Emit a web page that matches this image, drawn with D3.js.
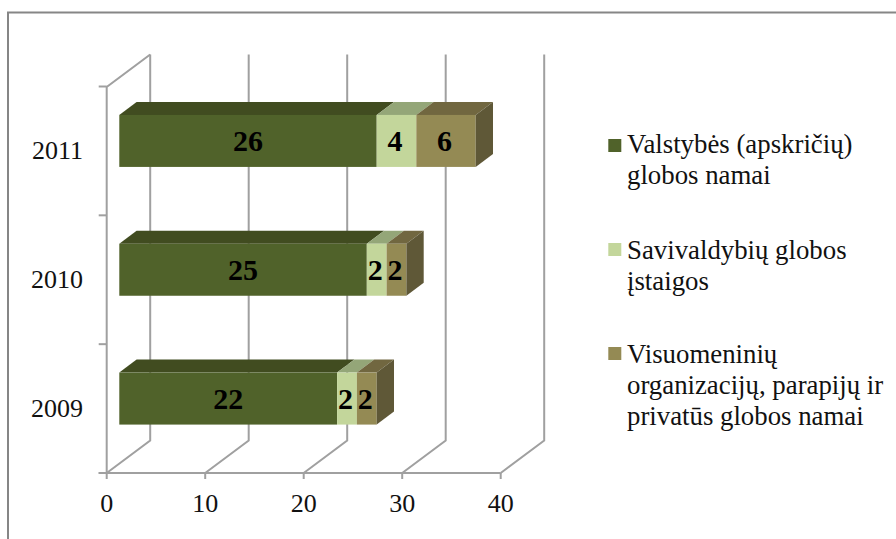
<!DOCTYPE html>
<html><head><meta charset="utf-8">
<script src="https://cdn.jsdelivr.net/npm/d3@7"></script>
<style>html,body{margin:0;padding:0;background:#fff}svg{display:block;font-family:"Liberation Serif",serif}</style>
</head><body><svg id="c" width="896" height="539"></svg>
<script>
const years = ["2011","2010","2009"];
const seriesNames = ["Valstybės (apskričių) globos namai","Savivaldybių globos įstaigos","Visuomeninių organizacijų, parapijų ir privatūs globos namai"];
const state = [26,25,22];
const municipal = [4,2,2];
const privateHomes = [6,2,2];
const xTicks = [0,10,20,30,40];
const legendLines = [["Valstybės (apskričių)","globos namai"],["Savivaldybių globos","įstaigos"],["Visuomeninių","organizacijų, parapijų ir","privatūs globos namai"]];
const front = ["#50622a","#c3d69b","#948a54"];
const topC = ["#414c20","#94a678","#716740"];
const sideC = ["#414c20","#94a678","#5f5837"];

const svg = d3.select("#c");
const x = d3.scaleLinear().domain([0,40]).range([106.7,500.7]);
const barX = d3.scaleLinear().domain([0,40]).range([119.3,515.3]);
const y = d3.scaleBand().domain(years).range([86.5,473]);
const wall = {dx:43.5, dy:-32.5};
const barOff = {dy:-10, w:17.3, h:13};
const grid = "#a0a0a0";
const gl = svg.append("g").attr("fill","none").attr("stroke",grid).attr("stroke-width",2);

// frame
svg.append("path").attr("d","M8 539V12.5H896").attr("fill","none").attr("stroke","#868686").attr("stroke-width",2);

// back wall / floor grid
xTicks.forEach(t=>{
  const px=x(t);
  gl.append("path").attr("d",`M${px} 473L${px+wall.dx} ${473+wall.dy}V${87+wall.dy}`);
  gl.append("line").attr("x1",px).attr("x2",px).attr("y1",473).attr("y2",479);
});
gl.append("path").attr("d",`M${x(0)} 473V87L${x(0)+wall.dx} ${87+wall.dy}`);
gl.append("line").attr("x1",x(0)-8).attr("x2",x(40)).attr("y1",473).attr("y2",473);
[86.5,...years.map(d=>y(d)+y.bandwidth())].forEach(v=>gl.append("line").attr("x1",x(0)-8).attr("x2",x(0)).attr("y1",v).attr("y2",v));

const barH=52;
const series=[state,municipal,privateHomes];
// bars, drawn back to front
years.forEach((yr,i)=>{
  const cy=y(yr)+y.bandwidth()/2+barOff.dy;
  const t=cy-barH/2,b=cy+barH/2;
  let cum=0;
  const g=svg.append("g");
  series.forEach((s,k)=>{
    const x0=barX(cum), x1=barX(cum+s[i]);
    g.append("path").attr("d",`M${x0} ${t}L${x0+barOff.w} ${t-barOff.h}H${x1+barOff.w}L${x1} ${t}Z`).attr("fill",topC[k]);
    g.append("rect").attr("x",x0).attr("y",t).attr("width",x1-x0).attr("height",barH).attr("fill",front[k]);
    if(k===2) g.append("path").attr("d",`M${x1} ${t}L${x1+barOff.w} ${t-barOff.h}V${b-barOff.h}L${x1} ${b}Z`).attr("fill",sideC[k]);
    g.append("text").attr("x",(x0+x1)/2-(k?1.5:0)).attr("y",cy+10).attr("text-anchor","middle")
      .attr("font-size",30).attr("font-weight","bold").attr("fill","#000").text(s[i]);
    cum+=s[i];
  });
});

// axis labels
xTicks.forEach(t=>svg.append("text").attr("x",x(t)).attr("y",512).attr("text-anchor","middle").attr("font-size",26).attr("fill","#111").text(t));
years.forEach(yr=>svg.append("text").attr("x",83).attr("y",y(yr)+y.bandwidth()/2+8.5).attr("text-anchor","end").attr("font-size",26).attr("fill","#111").text(yr));

// legend
const legendBase=[153,259,362.5];
const legendBox=[139,243,347];
legendLines.forEach((lines,k)=>{
  svg.append("rect").attr("x",608.3).attr("y",legendBox[k]).attr("width",13).attr("height",13).attr("fill",front[k]);
  const tx=svg.append("text").attr("font-size",26.8).attr("fill","#111");
  lines.forEach((l,j)=>tx.append("tspan").attr("x",627).attr("y",legendBase[k]+j*31).text(l));
});
</script></body></html>
